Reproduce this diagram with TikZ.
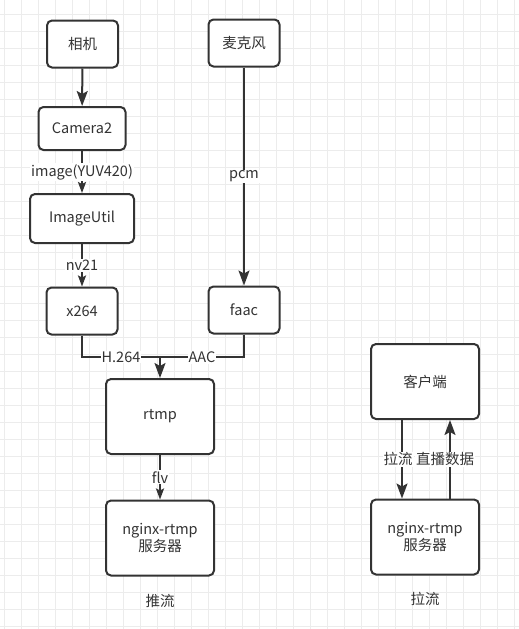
\documentclass[tikz,border=0pt]{standalone}
\usepackage{fontspec}
\setmainfont{Noto Sans CJK SC}
\usepackage{tikz}
\usetikzlibrary{arrows.meta}
\usetikzlibrary{positioning}
\definecolor{ink}{HTML}{333333}
\definecolor{gridc}{RGB}{236,236,236}
\tikzstyle{line} = [draw, line width=2pt,
color=ink, -{Stealth[length=15pt,width=11pt,inset=3pt]}]
\tikzstyle{thin line} = [draw, line width=2pt,
color=ink, -{Stealth[length=11pt,width=8pt,inset=2pt]}]

\begin{document}
\begin{tikzpicture}[x=1pt, y=-1pt, font=\fontsize{14.5}{17}\selectfont, text=ink,
		box/.style={draw=ink, line width=2pt, rounded corners=5pt, fill=white,
			align=center, inner sep=0pt, minimum width=71pt, minimum height=47pt},
		big/.style={box, minimum width=108pt, minimum height=75pt},
		lbl/.style={fill=white, inner sep=1pt}]
		\useasboundingbox (0,0) rectangle (519,629);
		%% Grid
		\foreach \x in {4,21,...,514} \draw [gridc, line width=1pt] (\x,0) -- (\x,629);
		\foreach \y in {14,31,...,626} \draw [gridc, line width=1pt] (0,\y) -- (519,\y);
		%% Push side
		\node [box] at (82.5,44) (cam) {相机};
		\node [box, minimum width=87pt, minimum height=43pt] at (82,128.5) (cam2) {Camera2};
		\node [box, minimum width=104pt, minimum height=49pt] at (82,218.5) (imgu) {ImageUtil};
		\node [box] at (82,311) (xenc) {x264};
		\node [box] at (244,43) (mic) {麦克风};
		\node [box] at (244,310) (faac) {faac};
		\node [big] at (160,416.5) (rtmp) {rtmp};
		\node [big] at (160,538) (srv) {nginx-rtmp\\服务器};
		\node at (160,601) (push) {推流};
		%% Pull side
		\node [big] at (425,381.5) (client) {客户端};
		\node [big] at (425,537) (srv2) {nginx-rtmp\\服务器};
		\node at (425,599) (pull) {拉流};
		%% Flows
		\path [line] (cam) -- (cam2);
		\path [thin line] (cam2) to node [lbl, midway] (TextImg) {image(YUV420)} (imgu);
		\path [thin line] (imgu) to node [lbl, midway] (TextNv) {nv21} (xenc);
		\path [line] (mic) to node [lbl, midway] (TextPcm) {pcm} (faac);
		\coordinate (join) at (160,357);
		\draw [ink, line width=2pt] (xenc.south) |- node [lbl, pos=0.75] (TextH) {H.264} (join);
		\draw [ink, line width=2pt] (faac.south) |- node [lbl, pos=0.75] (TextAac) {AAC} (join);
		\path [line] (join) -- (rtmp);
		\path [thin line] (rtmp) to node [lbl, midway] (TextFlv) {flv} (srv);
		\path [line] ([xshift=-23pt]client.south) to node [lbl, midway, xshift=-4pt] (TextPull) {拉流} ([xshift=-23pt]srv2.north);
		\path [line] ([xshift=25pt]srv2.north) to node [lbl, midway, xshift=-5pt] (TextLive) {直播数据} ([xshift=25pt]client.south);
	\end{tikzpicture}
\end{document}
